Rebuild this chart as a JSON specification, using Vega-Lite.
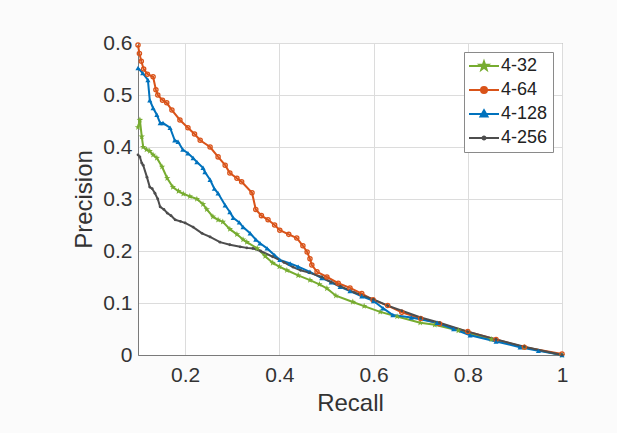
{
  "$schema": "https://vega.github.io/schema/vega-lite/v6.json",
  "width": 424,
  "height": 312,
  "autosize": {"type": "none"},
  "padding": {"left": 138, "top": 43, "right": 55, "bottom": 78},
  "background": "#fbfbfb",
  "config": {
    "font": "Liberation Sans",
    "view": {"stroke": "#7a7a7a", "strokeWidth": 1, "fill": "white"},
    "axis": {
      "labelFontSize": 21,
      "titleFontSize": 24,
      "labelColor": "#333333",
      "titleColor": "#333333",
      "titleFontWeight": "normal",
      "gridColor": "#dcdcdc",
      "gridWidth": 1,
      "domainColor": "#7a7a7a",
      "ticks": false
    },
    "legend": {
      "labelFontSize": 18,
      "labelColor": "#222222"
    }
  },
  "data": {
    "values": [
      {"s":"4-32","r":0.100,"p":0.438},{"s":"4-32","r":0.104,"p":0.452},{"s":"4-32","r":0.108,"p":0.420},{"s":"4-32","r":0.111,"p":0.400},{"s":"4-32","r":0.118,"p":0.395},{"s":"4-32","r":0.125,"p":0.392},{"s":"4-32","r":0.132,"p":0.385},{"s":"4-32","r":0.140,"p":0.379},{"s":"4-32","r":0.151,"p":0.362},{"s":"4-32","r":0.162,"p":0.340},{"s":"4-32","r":0.174,"p":0.323},{"s":"4-32","r":0.186,"p":0.315},{"s":"4-32","r":0.196,"p":0.310},{"s":"4-32","r":0.210,"p":0.305},{"s":"4-32","r":0.225,"p":0.300},{"s":"4-32","r":0.238,"p":0.290},{"s":"4-32","r":0.246,"p":0.280},{"s":"4-32","r":0.259,"p":0.266},{"s":"4-32","r":0.270,"p":0.260},{"s":"4-32","r":0.280,"p":0.256},{"s":"4-32","r":0.295,"p":0.242},{"s":"4-32","r":0.310,"p":0.232},{"s":"4-32","r":0.323,"p":0.222},{"s":"4-32","r":0.331,"p":0.217},{"s":"4-32","r":0.353,"p":0.205},{"s":"4-32","r":0.370,"p":0.190},{"s":"4-32","r":0.386,"p":0.177},{"s":"4-32","r":0.400,"p":0.170},{"s":"4-32","r":0.416,"p":0.163},{"s":"4-32","r":0.440,"p":0.153},{"s":"4-32","r":0.465,"p":0.144},{"s":"4-32","r":0.485,"p":0.136},{"s":"4-32","r":0.501,"p":0.128},{"s":"4-32","r":0.520,"p":0.114},{"s":"4-32","r":0.556,"p":0.102},{"s":"4-32","r":0.580,"p":0.094},{"s":"4-32","r":0.614,"p":0.083},{"s":"4-32","r":0.650,"p":0.074},{"s":"4-32","r":0.699,"p":0.062},{"s":"4-32","r":0.730,"p":0.058},{"s":"4-32","r":0.780,"p":0.047},{"s":"4-32","r":0.850,"p":0.030},{"s":"4-32","r":0.920,"p":0.015},{"s":"4-32","r":1.000,"p":0.000},

      {"s":"4-64","r":0.100,"p":0.596},{"s":"4-64","r":0.103,"p":0.580},{"s":"4-64","r":0.107,"p":0.565},{"s":"4-64","r":0.112,"p":0.550},{"s":"4-64","r":0.120,"p":0.540},{"s":"4-64","r":0.132,"p":0.535},{"s":"4-64","r":0.138,"p":0.510},{"s":"4-64","r":0.142,"p":0.500},{"s":"4-64","r":0.152,"p":0.490},{"s":"4-64","r":0.161,"p":0.485},{"s":"4-64","r":0.172,"p":0.471},{"s":"4-64","r":0.189,"p":0.452},{"s":"4-64","r":0.206,"p":0.437},{"s":"4-64","r":0.220,"p":0.425},{"s":"4-64","r":0.232,"p":0.413},{"s":"4-64","r":0.253,"p":0.400},{"s":"4-64","r":0.270,"p":0.381},{"s":"4-64","r":0.285,"p":0.365},{"s":"4-64","r":0.295,"p":0.350},{"s":"4-64","r":0.310,"p":0.340},{"s":"4-64","r":0.320,"p":0.333},{"s":"4-64","r":0.342,"p":0.312},{"s":"4-64","r":0.350,"p":0.280},{"s":"4-64","r":0.362,"p":0.268},{"s":"4-64","r":0.376,"p":0.260},{"s":"4-64","r":0.390,"p":0.250},{"s":"4-64","r":0.401,"p":0.240},{"s":"4-64","r":0.420,"p":0.232},{"s":"4-64","r":0.437,"p":0.225},{"s":"4-64","r":0.450,"p":0.210},{"s":"4-64","r":0.459,"p":0.198},{"s":"4-64","r":0.465,"p":0.185},{"s":"4-64","r":0.469,"p":0.173},{"s":"4-64","r":0.480,"p":0.160},{"s":"4-64","r":0.501,"p":0.150},{"s":"4-64","r":0.525,"p":0.138},{"s":"4-64","r":0.550,"p":0.129},{"s":"4-64","r":0.575,"p":0.118},{"s":"4-64","r":0.599,"p":0.106},{"s":"4-64","r":0.630,"p":0.095},{"s":"4-64","r":0.660,"p":0.082},{"s":"4-64","r":0.700,"p":0.070},{"s":"4-64","r":0.740,"p":0.060},{"s":"4-64","r":0.800,"p":0.045},{"s":"4-64","r":0.860,"p":0.030},{"s":"4-64","r":0.920,"p":0.015},{"s":"4-64","r":1.000,"p":0.002},

      {"s":"4-128","r":0.100,"p":0.552},{"s":"4-128","r":0.110,"p":0.542},{"s":"4-128","r":0.121,"p":0.529},{"s":"4-128","r":0.125,"p":0.490},{"s":"4-128","r":0.132,"p":0.475},{"s":"4-128","r":0.140,"p":0.462},{"s":"4-128","r":0.147,"p":0.446},{"s":"4-128","r":0.153,"p":0.446},{"s":"4-128","r":0.168,"p":0.437},{"s":"4-128","r":0.178,"p":0.413},{"s":"4-128","r":0.185,"p":0.410},{"s":"4-128","r":0.195,"p":0.395},{"s":"4-128","r":0.206,"p":0.388},{"s":"4-128","r":0.217,"p":0.379},{"s":"4-128","r":0.225,"p":0.371},{"s":"4-128","r":0.238,"p":0.360},{"s":"4-128","r":0.242,"p":0.352},{"s":"4-128","r":0.253,"p":0.337},{"s":"4-128","r":0.262,"p":0.320},{"s":"4-128","r":0.270,"p":0.311},{"s":"4-128","r":0.285,"p":0.288},{"s":"4-128","r":0.295,"p":0.275},{"s":"4-128","r":0.302,"p":0.264},{"s":"4-128","r":0.315,"p":0.255},{"s":"4-128","r":0.323,"p":0.246},{"s":"4-128","r":0.338,"p":0.234},{"s":"4-128","r":0.350,"p":0.222},{"s":"4-128","r":0.359,"p":0.215},{"s":"4-128","r":0.374,"p":0.205},{"s":"4-128","r":0.390,"p":0.192},{"s":"4-128","r":0.401,"p":0.183},{"s":"4-128","r":0.423,"p":0.176},{"s":"4-128","r":0.440,"p":0.170},{"s":"4-128","r":0.465,"p":0.160},{"s":"4-128","r":0.490,"p":0.148},{"s":"4-128","r":0.510,"p":0.140},{"s":"4-128","r":0.529,"p":0.131},{"s":"4-128","r":0.550,"p":0.123},{"s":"4-128","r":0.575,"p":0.113},{"s":"4-128","r":0.600,"p":0.104},{"s":"4-128","r":0.620,"p":0.090},{"s":"4-128","r":0.641,"p":0.077},{"s":"4-128","r":0.680,"p":0.072},{"s":"4-128","r":0.735,"p":0.062},{"s":"4-128","r":0.770,"p":0.050},{"s":"4-128","r":0.805,"p":0.038},{"s":"4-128","r":0.860,"p":0.026},{"s":"4-128","r":0.911,"p":0.015},{"s":"4-128","r":0.950,"p":0.008},{"s":"4-128","r":1.000,"p":0.000},

      {"s":"4-256","r":0.100,"p":0.385},{"s":"4-256","r":0.104,"p":0.381},{"s":"4-256","r":0.108,"p":0.369},{"s":"4-256","r":0.111,"p":0.365},{"s":"4-256","r":0.119,"p":0.342},{"s":"4-256","r":0.125,"p":0.323},{"s":"4-256","r":0.130,"p":0.320},{"s":"4-256","r":0.136,"p":0.311},{"s":"4-256","r":0.142,"p":0.300},{"s":"4-256","r":0.147,"p":0.285},{"s":"4-256","r":0.155,"p":0.280},{"s":"4-256","r":0.162,"p":0.273},{"s":"4-256","r":0.170,"p":0.268},{"s":"4-256","r":0.179,"p":0.260},{"s":"4-256","r":0.190,"p":0.257},{"s":"4-256","r":0.200,"p":0.254},{"s":"4-256","r":0.217,"p":0.246},{"s":"4-256","r":0.236,"p":0.234},{"s":"4-256","r":0.253,"p":0.227},{"s":"4-256","r":0.274,"p":0.217},{"s":"4-256","r":0.295,"p":0.212},{"s":"4-256","r":0.317,"p":0.208},{"s":"4-256","r":0.331,"p":0.206},{"s":"4-256","r":0.344,"p":0.205},{"s":"4-256","r":0.360,"p":0.200},{"s":"4-256","r":0.386,"p":0.189},{"s":"4-256","r":0.410,"p":0.178},{"s":"4-256","r":0.429,"p":0.169},{"s":"4-256","r":0.445,"p":0.163},{"s":"4-256","r":0.465,"p":0.158},{"s":"4-256","r":0.490,"p":0.150},{"s":"4-256","r":0.510,"p":0.140},{"s":"4-256","r":0.530,"p":0.132},{"s":"4-256","r":0.560,"p":0.120},{"s":"4-256","r":0.600,"p":0.107},{"s":"4-256","r":0.630,"p":0.095},{"s":"4-256","r":0.660,"p":0.085},{"s":"4-256","r":0.700,"p":0.072},{"s":"4-256","r":0.740,"p":0.062},{"s":"4-256","r":0.800,"p":0.045},{"s":"4-256","r":0.860,"p":0.030},{"s":"4-256","r":0.920,"p":0.016},{"s":"4-256","r":1.000,"p":0.000}
    ]
  },
  "encoding": {
    "x": {
      "field": "r", "type": "quantitative",
      "scale": {"domain": [0.1, 1], "nice": false, "zero": false},
      "axis": {"title": "Recall", "values": [0.2, 0.4, 0.6, 0.8, 1], "format": ".1~f", "labelPadding": 9, "titlePadding": 6, "labelFlush": false}
    },
    "y": {
      "field": "p", "type": "quantitative",
      "scale": {"domain": [0, 0.6], "nice": false},
      "axis": {"title": "Precision", "values": [0, 0.1, 0.2, 0.3, 0.4, 0.5, 0.6], "format": ".1~f", "labelPadding": 6, "titlePadding": 6, "labelFlush": false}
    },
    "color": {
      "field": "s", "type": "nominal",
      "scale": {"domain": ["4-32", "4-64", "4-128", "4-256"], "range": ["#77AC30", "#D95319", "#0072BD", "#4D4D4D"]},
      "legend": {
        "title": null,
        "orient": "top-right",
        "offset": 9,
        "padding": 5,
        "rowPadding": 6,
        "symbolSize": 100,
        "symbolType": "stroke",
        "symbolOffset": 6,
        "labelOffset": 8,
        "strokeColor": "#8a8a8a",
        "fillColor": "white",
        "encode": {
          "symbols": {
            "update": {
              "shape": {"signal": "datum.value === '4-32' ? 'M-3,0L3,0M0,-0.9L0.21,-0.29L0.86,-0.28L0.34,0.11L0.53,0.73L0,0.36L-0.53,0.73L-0.34,0.11L-0.86,-0.28L-0.21,-0.29Z' : datum.value === '4-64' ? 'M-3,0L3,0M0.6,0A0.6,0.6,0,1,1,-0.6,0A0.6,0.6,0,1,1,0.6,0' : datum.value === '4-128' ? 'M-3,0L3,0M0,-0.75L0.7,0.5L-0.7,0.5Z' : 'M-3,0L3,0M0.3,0A0.3,0.3,0,1,1,-0.3,0A0.3,0.3,0,1,1,0.3,0'"},
              "size": {"value": 100},
              "stroke": {"scale": "color", "field": "value"},
              "fill": {"signal": "datum.value === '4-64' ? 'white' : scale('color', datum.value)"},
              "strokeWidth": {"value": 2},
              "opacity": {"value": 1}
            }
          }
        }
      }
    }
  },
  "layer": [
    {
      "mark": {"type": "line", "strokeWidth": 2}
    },
    {
      "transform": [{"filter": "datum.s === '4-32'"}],
      "mark": {"type": "point", "filled": true, "opacity": 1, "size": 45, "shape": "M0,-1L0.235,-0.324L0.951,-0.309L0.38,0.124L0.588,0.809L0,0.4L-0.588,0.809L-0.38,0.124L-0.951,-0.309L-0.235,-0.324Z"}
    },
    {
      "transform": [{"filter": "datum.s === '4-64'"}],
      "mark": {"type": "point", "filled": false, "opacity": 1, "strokeWidth": 1.3, "size": 18, "shape": "circle"}
    },
    {
      "transform": [{"filter": "datum.s === '4-128'"}],
      "mark": {"type": "point", "filled": true, "opacity": 1, "size": 26, "shape": "triangle-up"}
    },
    {
      "transform": [{"filter": "datum.s === '4-256'"}],
      "mark": {"type": "point", "filled": true, "opacity": 1, "size": 8, "shape": "circle"}
    }
  ]
}
